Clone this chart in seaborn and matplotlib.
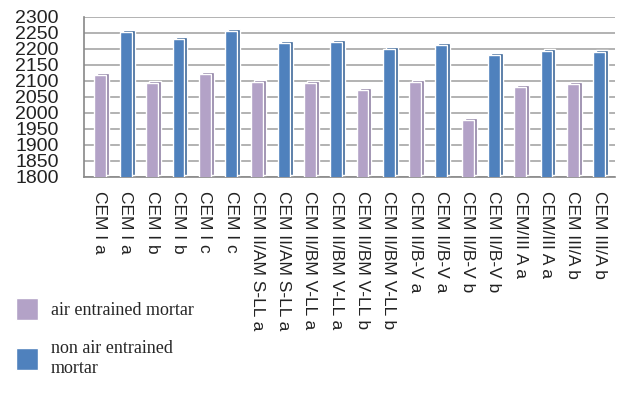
import numpy as np
import pandas as pd
import matplotlib
matplotlib.use("Agg")
import matplotlib.pyplot as plt
import matplotlib.transforms as mtransforms
import seaborn as sns

categories = ["CEM I a", "CEM I a", "CEM I b", "CEM I b", "CEM I c", "CEM I c",
              "CEM II/AM S-LL a", "CEM II/AM S-LL a",
              "CEM II/BM V-LL a", "CEM II/BM V-LL a",
              "CEM II/BM V-LL b", "CEM II/BM V-LL b",
              "CEM II/B-V a", "CEM II/B-V a",
              "CEM II/B-V b", "CEM II/B-V b",
              "CEM/III A a", "CEM/III A a",
              "CEM III/A b", "CEM III/A b"]
series = ["air entrained mortar", "non air entrained\nmortar"] * 10
values = [2118, 2254, 2092, 2230, 2121, 2257, 2095, 2218, 2093, 2220,
          2073, 2200, 2095, 2213, 1978, 2182, 2082, 2193, 2090, 2190]
yticks = list(range(1800, 2301, 50))

colors = {"air entrained mortar": "#B3A2C7", "non air entrained\nmortar": "#4F81BD"}
side = {"air entrained mortar": "#8E7FA3", "non air entrained\nmortar": "#3B6597"}

df = pd.DataFrame({"pos": range(len(values)), "cat": categories,
                   "series": series, "value": values})

sns.set_style("white")
plt.rcParams["font.family"] = ["Liberation Sans", "DejaVu Sans"]

fig = plt.figure(figsize=(6.21, 3.93), dpi=100)
ax = fig.add_axes([0.135, 0.55, 0.855, 0.407])

# side faces for a bit of depth
shift = mtransforms.offset_copy(ax.transData, fig=fig, x=3, y=2, units="dots")
for s in colors:
    d = df[df.series == s]
    ax.bar(d.pos, d.value - 1800, bottom=1800, width=0.45, color=side[s],
           transform=shift, zorder=2)

sns.barplot(data=df, x="pos", y="value", hue="series", palette=colors,
            dodge=False, width=0.45, saturation=1, ax=ax, legend=True)
for p in ax.patches:
    p.set_zorder(3)

ax.set_ylim(1800, 2300)
ax.set_xlim(-0.6, 19.6)
ax.set_yticks(yticks)
ax.set_yticklabels([str(t) for t in yticks], fontsize=14, color="#222222")
ax.yaxis.grid(True, color="#A6A6A6", lw=1.2)
ax.set_axisbelow(True)
ax.set_xticks(range(len(categories)))
ax.set_xticklabels(categories, rotation=-90, fontsize=12.5, color="#222222")
ax.set_xticks(np.arange(-0.5, 20, 1), minor=True)
ax.tick_params(axis="x", which="both", length=4, color="#888888", pad=6)
ax.tick_params(axis="y", length=4, color="#888888", pad=14)
ax.set_xlabel("")
ax.set_ylabel("")
for sp in ["top", "right"]:
    ax.spines[sp].set_visible(False)
for sp in ["left", "bottom"]:
    ax.spines[sp].set_color("#888888")
    ax.spines[sp].set_linewidth(1.2)

handles, labels = ax.get_legend_handles_labels()
ax.get_legend().remove()
fig.legend(handles, labels, loc="lower left", bbox_to_anchor=(0.0, 0.0),
           frameon=False, prop={"family": "Liberation Serif", "size": 13},
           handlelength=1.2, handleheight=1.5, labelspacing=1.1,
           handletextpad=0.7)

fig.savefig("out.png", dpi=100)
